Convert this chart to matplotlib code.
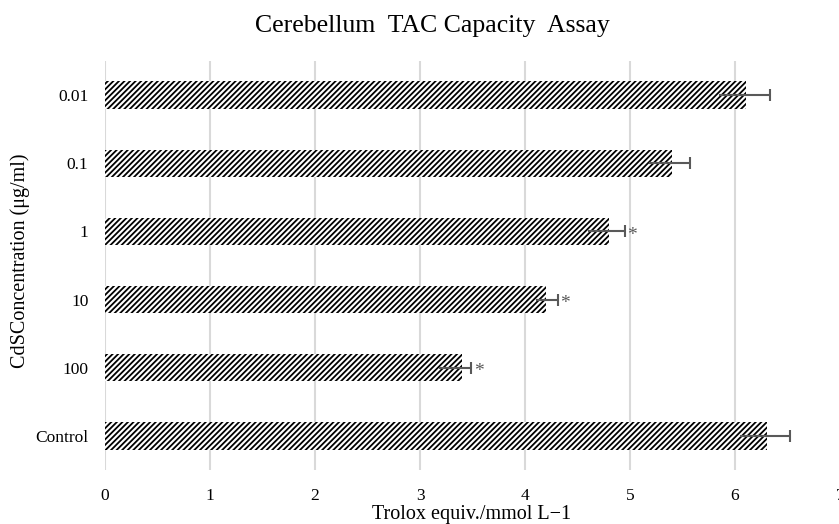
import numpy as np
import matplotlib.pyplot as plt

categories = ['Control', '100', '10', '1', '0.1', '0.01']
values = [6.30, 3.40, 4.20, 4.80, 5.40, 6.10]
err_lo = [0.25, 0.22, 0.10, 0.20, 0.22, 0.25]
err_hi = [0.22, 0.09, 0.11, 0.15, 0.17, 0.23]
stars = ['', '*', '*', '*', '', '']

plt.rcParams['font.family'] = ['Liberation Serif', 'DejaVu Serif']
plt.rcParams['hatch.linewidth'] = 1.3

fig = plt.figure(figsize=(8.39, 5.24), dpi=100)
ax = fig.add_axes([105 / 839, 1 - 470 / 524, 735 / 839, 409 / 524])

y = np.arange(len(categories))
ax.barh(y, values, height=0.4, color='white', edgecolor='black',
        linewidth=0, hatch='//////', zorder=2)

vals = np.array(values)
ax.errorbar(vals, y, xerr=[err_lo, err_hi], fmt='none', ecolor='#595959',
            elinewidth=1.5, capsize=0, zorder=3)
ax.plot(vals + np.array(err_hi), y, linestyle='none', marker='|',
        markersize=9, markeredgewidth=1.5, color='#595959', zorder=3)
for yi, v, e, s in zip(y, values, err_hi, stars):
    if s:
        ax.text(v + e + 0.02, yi - 0.06, s, color='#595959', fontsize=14,
                va='center', ha='left', zorder=4)

ax.set_xlim(0, 7)
ax.set_ylim(-0.5, 5.5)
ax.set_xticks(range(8))
ax.set_yticks(y)
ax.set_yticklabels(categories)
ax.tick_params(length=0, labelsize=12.5, colors='black')
ax.tick_params(axis='x', pad=13)
ax.tick_params(axis='y', pad=12)
ax.grid(axis='x', color='#d9d9d9', linewidth=1.5, zorder=0)
ax.set_axisbelow(True)
for sp in ax.spines.values():
    sp.set_visible(False)

fig.text(472 / 839, 1 - 514 / 524, 'Trolox equiv./mmol L\u22121',
         ha='center', va='center', fontsize=14.5)
fig.text(20 / 839, 1 - 261 / 524, 'CdSConcentration (\u03bcg/ml)',
         ha='center', va='center', rotation=90, fontsize=14.5)
fig.text(432 / 839, 1 - 26 / 524, 'Cerebellum  TAC Capacity  Assay',
         ha='center', va='center', fontsize=18.5)

fig.savefig('out.png', dpi=100)
